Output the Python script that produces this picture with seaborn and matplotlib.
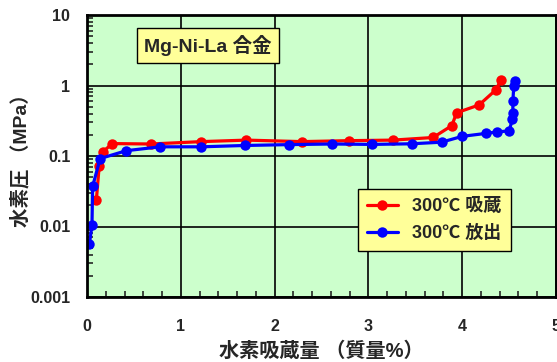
import pandas as pd
import matplotlib
matplotlib.use('Agg')
import matplotlib.pyplot as plt
import matplotlib.ticker as mticker
import seaborn as sns

# absorption (吸蔵) at 300C
abs_x = [0.10, 0.13, 0.17, 0.27, 0.68, 1.22, 1.70, 2.29, 2.79, 3.26, 3.69, 3.89, 3.94, 4.18, 4.36, 4.41]
abs_p = [0.024, 0.072, 0.115, 0.150, 0.148, 0.160, 0.168, 0.160, 0.165, 0.168, 0.183, 0.27, 0.41, 0.53, 0.87, 1.18]

# desorption (放出) at 300C
des_x = [4.56, 4.55, 4.54, 4.54, 4.535, 4.50, 4.375, 4.25, 4.00, 3.78, 3.46, 3.04, 2.61, 2.15,
         1.68, 1.22, 0.78, 0.42, 0.14, 0.06, 0.053, 0.025]
des_p = [1.14, 0.97, 0.60, 0.41, 0.33, 0.227, 0.22, 0.209, 0.19, 0.157, 0.149, 0.146, 0.148, 0.145,
         0.141, 0.135, 0.135, 0.119, 0.092, 0.037, 0.0104, 0.0056]

labels = ['300℃ 吸蔵', '300℃ 放出']

df = pd.concat([
    pd.DataFrame({'x': abs_x, 'p': abs_p, 'series': labels[0]}),
    pd.DataFrame({'x': des_x, 'p': des_p, 'series': labels[1]}),
])

sns.set_style('ticks')
plt.rcParams['font.family'] = ['Liberation Sans', 'Noto Sans CJK JP', 'DejaVu Sans']
plt.rcParams['font.weight'] = 'bold'

fig = plt.figure(figsize=(5.57, 3.62), dpi=100)
ax = fig.add_axes([87 / 557, 65 / 362, 469 / 557, 282 / 362])
ax.set_facecolor('#CCFFCC')

sns.lineplot(data=df, x='x', y='p', hue='series', palette=['#FF0000', '#0000FF'],
             sort=False, estimator=None, marker='o', markersize=7.5, markeredgewidth=0,
             linewidth=2.3, ax=ax)

ax.set_yscale('log')
ax.set_xlim(0, 5)
ax.set_ylim(0.001, 10)
ax.set_xticks([0, 1, 2, 3, 4, 5])
ax.xaxis.set_minor_locator(mticker.MultipleLocator(0.2))
ax.yaxis.set_major_formatter(mticker.FuncFormatter(lambda v, _: '%g' % v))
ax.grid(True, which='major', color='black', linewidth=1.2)
ax.tick_params(which='both', direction='in', labelsize=11.5, width=1.2)
ax.tick_params(axis='x', which='major', length=0, pad=16)
ax.tick_params(axis='y', which='major', length=0, pad=12)
ax.tick_params(which='minor', length=4)
for sp in ax.spines.values():
    sp.set_linewidth(2)
    sp.set_color('black')

ax.set_xlabel('水素吸蔵量 （質量%）', fontsize=14.5, fontweight='bold', labelpad=5)
ax.set_ylabel('水素圧 （MPa）', fontsize=14, fontweight='bold', labelpad=0)

ax.text(0.258, 0.892, 'Mg-Ni-La 合金', transform=ax.transAxes, ha='center', va='center',
        fontsize=14, fontweight='bold',
        bbox=dict(boxstyle='square,pad=0.35', facecolor='#FFFF99', edgecolor='black', linewidth=1))

leg = ax.legend(loc='upper left', bbox_to_anchor=(0.578, 0.383), borderaxespad=0,
                frameon=True, fancybox=False, facecolor='#FFFF99', edgecolor='black',
                framealpha=1, fontsize=13, handlelength=1.7, borderpad=0.5, labelspacing=0.55,
                handletextpad=0.8)
leg.get_frame().set_linewidth(1)
for t in leg.get_texts():
    t.set_fontweight('bold')

fig.savefig('out.png', dpi=100)
